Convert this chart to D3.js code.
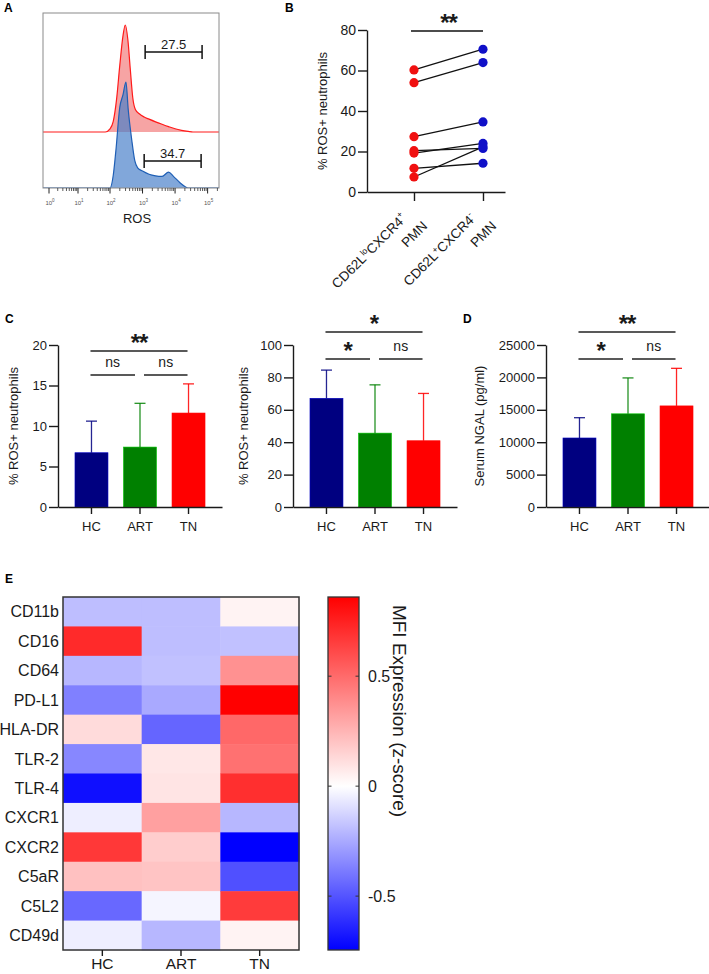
<!DOCTYPE html>
<html><head><meta charset="utf-8">
<script src="https://cdn.jsdelivr.net/npm/d3@7"></script>
<style>body{margin:0;background:#fff}svg{display:block;font-family:"Liberation Sans",Arial,Helvetica,sans-serif}</style>
</head><body><svg id="c" width="709" height="974"></svg>
<script>
// ---------------- DATA ----------------
// Panel A: ROS histograms (x = log10 fluorescence, y = relative count)
const histRed = [[-0.2,0],[1.85,0],[2.0,0.03],[2.1,0.1],[2.2,0.3],[2.3,0.62],[2.4,0.9],[2.47,1.0],[2.55,0.86],[2.62,0.6],[2.7,0.32],[2.78,0.21],[2.9,0.17],[3.05,0.14],[3.2,0.12],[3.4,0.095],[3.6,0.072],[3.8,0.05],[4.0,0.03],[4.2,0.016],[4.4,0.006],[4.55,0],[5.35,0]];
const histBlue = [[-0.2,0],[2.0,0],[2.1,0.12],[2.18,0.35],[2.3,0.76],[2.4,0.88],[2.49,1.0],[2.56,0.74],[2.67,0.45],[2.76,0.26],[2.85,0.19],[3.0,0.16],[3.2,0.13],[3.4,0.115],[3.6,0.11],[3.8,0.15],[3.95,0.11],[4.15,0.05],[4.3,0.015],[4.4,0],[5.35,0]];
const histDecades = [0,1,2,3,4,5];
const gateLabels = ["27.5","34.7"];
const gateFrom = [3.08,3.05];
const gateTo = [4.83,4.80];

// Panel B: paired % ROS+ neutrophils
const pairCats = ["lo","hi"];
const pairLine1 = [["CD62L","lo","CXCR4","+"],["CD62L","+","CXCR4","-"]];
const pairLine2 = ["PMN","PMN"];
const rosLo = [60.3,54.0,27.3,20.4,19.2,11.7,7.4];
const rosHi = [70.5,63.9,34.6,21.5,24.0,14.2,22.3];
const bTicks = [0,20,40,60,80];
const bSig = "**";

// Panels C & D: group bars (mean + SD)
const groups = ["HC","ART","TN"];
const groupColors = ["#000080","#008000","#ff0000"];
const c1Mean = [6.7,7.4,11.6];
const c1SD = [3.9,5.4,3.6];
const c1Ticks = [0,5,10,15,20];
const c1SigPairs = [[0,2],[0,1],[1,2]];
const c1SigLabels = ["**","ns","ns"];
const c2Mean = [67.1,45.6,40.9];
const c2SD = [17.4,29.8,29.2];
const c2Ticks = [0,20,40,60,80,100];
const c2SigPairs = [[0,2],[0,1],[1,2]];
const c2SigLabels = ["*","*","ns"];
const dMean = [10650,14380,15600];
const dSD = [3130,5540,5800];
const dTicks = [0,5000,10000,15000,20000,25000];
const dSigPairs = [[0,2],[0,1],[1,2]];
const dSigLabels = ["**","*","ns"];

// Panel E: heatmap z-scores
const markers = ["CD11b","CD16","CD64","PD-L1","HLA-DR","TLR-2","TLR-4","CXCR1","CXCR2","C5aR","C5L2","CD49d"];
const heatHC  = [-0.19, 0.72,-0.21,-0.37, 0.12,-0.35,-0.70,-0.05, 0.67, 0.21,-0.44,-0.05];
const heatART = [-0.19,-0.19,-0.18,-0.25,-0.45, 0.08, 0.09, 0.32, 0.17, 0.20,-0.03,-0.21];
const heatTN  = [ 0.04,-0.18, 0.37, 0.86, 0.51, 0.48, 0.70,-0.21,-0.745,-0.51, 0.66, 0.04];
const zMin = -0.745, zMax = 0.86;
const cbTicks = [-0.5,0,0.5];
const cbTitle = "MFI Expression (z-score)";

// ---------------- DRAWING ----------------
const svg = d3.select("#c");
const ink = "#1a1a1a";

// panel letters
const letters = [["A",4,12],["B",285,12],["C",5,323],["D",463,323],["E",5,583]];
letters.forEach(l => svg.append("text").attr("x",l[1]).attr("y",l[2]).attr("font-size",12).attr("font-weight","bold").attr("fill","#000").text(l[0]));

// ---------- Panel A ----------
(function(){
  const x = d3.scaleLinear().domain([-0.2,0,1,2,5.35]).range([43,49,78,110,219]);
  const yR = d3.scaleLinear().domain([0,1]).range([132,25]);
  const yB = d3.scaleLinear().domain([0,1]).range([188,82]);
  const g = svg.append("g");
  g.append("clipPath").attr("id","clipA").append("rect").attr("x",43).attr("y",13).attr("width",176).attr("height",175);
  const gc = g.append("g").attr("clip-path","url(#clipA)");
  const areaR = d3.area().x(d=>x(d[0])).y0(yR(0)).y1(d=>yR(d[1])).curve(d3.curveMonotoneX);
  const lineR = d3.line().x(d=>x(d[0])).y(d=>yR(d[1])).curve(d3.curveMonotoneX);
  const areaB = d3.area().x(d=>x(d[0])).y0(yB(0)).y1(d=>yB(d[1])).curve(d3.curveMonotoneX);
  const lineB = d3.line().x(d=>x(d[0])).y(d=>yB(d[1])).curve(d3.curveMonotoneX);
  gc.append("path").datum(histRed).attr("d",areaR).attr("fill","rgba(238,90,90,0.55)");
  gc.append("path").datum(histRed).attr("d",lineR).attr("fill","none").attr("stroke","#ff1a1a").attr("stroke-width",1.2);
  gc.append("path").datum(histBlue).attr("d",areaB).attr("fill","rgba(70,125,200,0.68)");
  gc.append("path").datum(histBlue).attr("d",lineB).attr("fill","none").attr("stroke","#1f5fb5").attr("stroke-width",1.2);
  g.append("rect").attr("x",43).attr("y",13).attr("width",176).attr("height",175).attr("fill","none").attr("stroke","#8a8a8a").attr("stroke-width",1);
  // ticks
  const minor = [];
  histDecades.forEach(n => { for (let k=2;k<=9;k++){ const v=n+Math.log10(k); if (v<5.35) minor.push(v);} });
  g.selectAll(".mn").data(minor).join("line").attr("x1",d=>x(d)).attr("x2",d=>x(d)).attr("y1",188).attr("y2",191).attr("stroke","#333").attr("stroke-width",0.8);
  g.selectAll(".mj").data(histDecades).join("line").attr("x1",d=>x(d)).attr("x2",d=>x(d)).attr("y1",188).attr("y2",193.5).attr("stroke","#222").attr("stroke-width",1);
  const tl = g.selectAll(".tl").data(histDecades).join("text").attr("x",d=>x(d)+1).attr("y",205).attr("text-anchor","middle").attr("font-size",6).attr("fill","#555");
  tl.append("tspan").text("10");
  tl.append("tspan").attr("dy",-3).attr("font-size",4.5).text(d=>d);
  g.append("text").attr("x",137).attr("y",223).attr("text-anchor","middle").attr("font-size",13).attr("fill",ink).text("ROS");
  // gates
  const gy = [52,161];
  gateLabels.forEach((lab,i)=>{
    const x1=x(gateFrom[i]), x2=x(gateTo[i]);
    g.append("line").attr("x1",x1).attr("x2",x2).attr("y1",gy[i]).attr("y2",gy[i]).attr("stroke","#111").attr("stroke-width",1.5);
    [x1,x2].forEach(xx=>g.append("line").attr("x1",xx).attr("x2",xx).attr("y1",gy[i]-7).attr("y2",gy[i]+7).attr("stroke","#111").attr("stroke-width",1.5));
    g.append("text").attr("x",(x1+x2)/2).attr("y",gy[i]-3).attr("text-anchor","middle").attr("font-size",13).attr("fill",ink).text(lab);
  });
})();

// ---------- Panel B ----------
(function(){
  const y = d3.scaleLinear().domain([0,80]).range([192,30]);
  const x = d3.scalePoint().domain(pairCats).range([367,505]).padding(0.5).align(0.681);
  const g = svg.append("g");
  const ya = g.append("g").attr("transform","translate(367,0)").call(d3.axisLeft(y).tickValues(bTicks).tickSize(9).tickSizeOuter(0).tickPadding(2));
  const xa = g.append("g").attr("transform","translate(0,192)").call(d3.axisBottom(x).tickSize(9).tickSizeOuter(0).tickFormat(""));
  [ya,xa].forEach(a=>{a.selectAll("path,line").attr("stroke",ink).attr("stroke-width",1.4); a.selectAll("text").attr("font-size",14).attr("fill",ink).attr("font-family",null);});
  g.append("text").attr("transform","translate(327,111) rotate(-90)").attr("text-anchor","middle").attr("font-size",13).attr("fill",ink).text("% ROS+ neutrophils");
  rosLo.forEach((v,i)=>{
    g.append("line").attr("x1",x("lo")).attr("x2",x("hi")).attr("y1",y(v)).attr("y2",y(rosHi[i])).attr("stroke","#111").attr("stroke-width",1.3);
  });
  g.selectAll(".pr").data(rosLo).join("circle").attr("cx",x("lo")).attr("cy",d=>y(d)).attr("r",4.6).attr("fill","#f01010");
  g.selectAll(".pb").data(rosHi).join("circle").attr("cx",x("hi")).attr("cy",d=>y(d)).attr("r",4.6).attr("fill","#1010c8");
  g.append("line").attr("x1",x("lo")-3).attr("x2",x("hi")).attr("y1",31).attr("y2",31).attr("stroke","#111").attr("stroke-width",1.3);
  g.append("text").attr("x",(x("lo")+x("hi"))/2).attr("y",31).attr("text-anchor","middle").attr("font-size",24).attr("font-weight","bold").attr("letter-spacing",-1).attr("fill",ink).text(bSig);
  // rotated category labels
  pairCats.forEach((c,i)=>{
    const gl = g.append("g").attr("transform",`translate(${x(c)},200) rotate(-45)`);
    const t = gl.append("text").attr("x",-18).attr("y",9).attr("text-anchor","end").attr("font-size",13.5).attr("fill",ink);
    const p = pairLine1[i];
    t.append("tspan").text(p[0]);
    t.append("tspan").attr("dy",-5).attr("font-size",8.5).text(p[1]);
    t.append("tspan").attr("dy",5).text(p[2]);
    t.append("tspan").attr("dy",-6).attr("font-size",8.5).text(p[3]);
    gl.append("text").attr("x",-9).attr("y",29).attr("text-anchor","end").attr("font-size",13.5).attr("fill",ink).text(pairLine2[i]);
  });
})();

// ---------- Panels C & D ----------
function barPanel(ax0, ax1, maxV, ticks, means, sds, label, labelX, sigPairs, sigLabels, sigY){
  const y = d3.scaleLinear().domain([0,maxV]).range([507,345]);
  const x = d3.scaleBand().domain(groups).range([ax0,ax1]).paddingInner(0.32).paddingOuter(0.35);
  const g = svg.append("g");
  groups.forEach((gr,i)=>{
    g.append("rect").attr("x",x(gr)).attr("width",x.bandwidth()).attr("y",y(means[i])).attr("height",507-y(means[i]))
      .attr("fill",groupColors[i]).attr("stroke",d3.color(groupColors[i]).brighter(1.2)).attr("stroke-width",0.6);
    const cx = x(gr)+x.bandwidth()/2;
    g.append("line").attr("x1",cx).attr("x2",cx).attr("y1",y(means[i])).attr("y2",y(means[i]+sds[i])).attr("stroke",groupColors[i]).attr("stroke-width",1.3).attr("opacity",0.85);
    g.append("line").attr("x1",cx-5.5).attr("x2",cx+5.5).attr("y1",y(means[i]+sds[i])).attr("y2",y(means[i]+sds[i])).attr("stroke",groupColors[i]).attr("stroke-width",1.3).attr("opacity",0.85);
  });
  const ya = g.append("g").attr("transform",`translate(${ax0},0)`).call(d3.axisLeft(y).tickValues(ticks).tickSize(9).tickSizeOuter(0).tickPadding(2).tickFormat(d3.format("d")));
  const xa = g.append("g").attr("transform","translate(0,507)").call(d3.axisBottom(x).tickSize(7).tickSizeOuter(0).tickPadding(8));
  [ya,xa].forEach(a=>{a.selectAll("path,line").attr("stroke",ink).attr("stroke-width",1.4); a.selectAll("text").attr("font-size",13).attr("fill",ink).attr("font-family",null);});
  g.append("text").attr("transform",`translate(${labelX},426) rotate(-90)`).attr("text-anchor","middle").attr("font-size",13).attr("fill",ink).text(label);
  const cxs = groups.map(gr=>x(gr)+x.bandwidth()/2);
  sigPairs.forEach((p,k)=>{
    const ly = k===0 ? sigY[0] : sigY[1];
    const xs = cxs[p[0]] - 1 + (p[0]===1?5:0);
    const xe = cxs[p[1]] + (p[1]===1?-5:-1);
    g.append("line").attr("x1",xs).attr("x2",xe).attr("y1",ly).attr("y2",ly).attr("stroke","#222").attr("stroke-width",1.3);
    const lab = sigLabels[k];
    const isStar = lab.indexOf("*")>=0;
    g.append("text").attr("x",(xs+xe)/2).attr("y", isStar ? ly : ly-8).attr("text-anchor","middle")
      .attr("font-size", isStar?24:14).attr("font-weight", isStar?"bold":null).attr("letter-spacing", isStar?-1:null).attr("fill",ink).text(lab);
  });
}
barPanel(58,222,20,c1Ticks,c1Mean,c1SD,"% ROS+ neutrophils",18,c1SigPairs,c1SigLabels,[351,375]);
barPanel(293,457,100,c2Ticks,c2Mean,c2SD,"% ROS+ neutrophils",248,c2SigPairs,c2SigLabels,[332,359]);
barPanel(546,710,25000,dTicks,dMean,dSD,"Serum NGAL (pg/ml)",484,dSigPairs,dSigLabels,[332,359]);

// ---------- Panel E ----------
(function(){
  const x = d3.scaleBand().domain(groups).range([63,299]);
  const y = d3.scaleBand().domain(markers).range([597,950]);
  const color = d3.scaleLinear().domain([zMin,0,zMax]).range(["#0000ff","#ffffff","#ff0000"]);
  const heat = [heatHC, heatART, heatTN];
  const g = svg.append("g");
  const cells = [];
  groups.forEach((gr,j)=>markers.forEach((m,i)=>cells.push({gr,m,v:heat[j][i]})));
  g.selectAll(".cell").data(cells).join("rect").attr("x",d=>x(d.gr)).attr("y",d=>y(d.m)).attr("width",x.bandwidth()+0.5).attr("height",y.bandwidth()+0.5).attr("fill",d=>color(d.v));
  g.append("rect").attr("x",63).attr("y",597).attr("width",236).attr("height",353).attr("fill","none").attr("stroke","#333").attr("stroke-width",1.5);
  g.selectAll(".rl").data(markers).join("text").attr("x",59).attr("y",d=>y(d)+y.bandwidth()/2).attr("dy","0.36em").attr("text-anchor","end").attr("font-size",16).attr("fill",ink).text(d=>d);
  const xa = g.append("g").attr("transform","translate(0,950)").call(d3.axisBottom(x).tickSize(6).tickSizeOuter(0).tickPadding(2));
  xa.select(".domain").remove();
  xa.selectAll("line").attr("stroke",ink).attr("stroke-width",1.4);
  xa.selectAll("text").attr("font-size",15.5).attr("fill",ink).attr("font-family",null);
  // colorbar
  const yc = d3.scaleLinear().domain([zMin,zMax]).range([950,597]);
  const grad = svg.append("defs").append("linearGradient").attr("id","cbg").attr("x1",0).attr("y1",1).attr("x2",0).attr("y2",0);
  [zMin,0,zMax].forEach(v=>grad.append("stop").attr("offset",(v-zMin)/(zMax-zMin)).attr("stop-color",color(v)));
  g.append("rect").attr("x",328).attr("y",597).attr("width",31).attr("height",353).attr("fill","url(#cbg)").attr("stroke","#333").attr("stroke-width",1.3);
  cbTicks.forEach(t=>{
    g.append("line").attr("x1",328).attr("x2",331.5).attr("y1",yc(t)).attr("y2",yc(t)).attr("stroke","#333").attr("stroke-width",1);
    g.append("line").attr("x1",355.5).attr("x2",359).attr("y1",yc(t)).attr("y2",yc(t)).attr("stroke","#333").attr("stroke-width",1);
    g.append("text").attr("x",368).attr("y",yc(t)).attr("dy","0.36em").attr("font-size",16).attr("fill",ink).text(t);
  });
  g.append("text").attr("transform","translate(400,711) rotate(90)").attr("text-anchor","middle").attr("dy","0.36em").attr("font-size",19).attr("fill",ink).text(cbTitle);
})();
</script></body></html>
